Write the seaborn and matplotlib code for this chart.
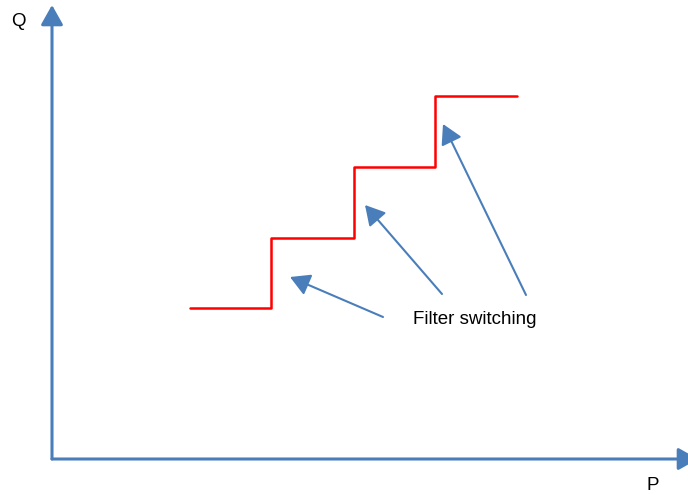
import matplotlib
matplotlib.use("Agg")
import matplotlib.pyplot as plt
import seaborn as sns
import pandas as pd

sns.set_style("white")
plt.rcParams['font.family'] = ['Liberation Sans', 'DejaVu Sans']

# step curve: Q level after each filter switch (P positions)
p_steps = [138, 219, 302, 383, 465]
q_steps = [151, 221, 292, 363, 363]

# annotation arrows (tail -> tip)
arrow_tail = [(331, 142), (390, 165), (474, 164)]
arrow_tip = [(238, 182), (313, 254), (391, 335)]
label_text = "Filter switching"

blue = "#4a7ebb"

fig = plt.figure(figsize=(6.88, 4.95), dpi=100)
ax = fig.add_axes([0, 0, 1, 1])
ax.set_xlim(-52, 636)
ax.set_ylim(-36, 459)
ax.axis("off")

df = pd.DataFrame({"P": p_steps, "Q": q_steps})
sns.lineplot(data=df, x="P", y="Q", drawstyle="steps-post", color="#ff0000",
             linewidth=1.8, ax=ax)

# axes drawn as arrows
head = "-|>,head_length=0.8,head_width=0.45"
ax.annotate("", xy=(0, 454), xytext=(0, 0), annotation_clip=False,
            arrowprops=dict(arrowstyle=head, color=blue, lw=2.2,
                            mutation_scale=15, shrinkA=0, shrinkB=0))
ax.annotate("", xy=(646, 0), xytext=(0, 0), annotation_clip=False,
            arrowprops=dict(arrowstyle=head, color=blue, lw=2.2,
                            mutation_scale=15, shrinkA=0, shrinkB=0))

for tail, tip in zip(arrow_tail, arrow_tip):
    ax.annotate("", xy=tip, xytext=tail, annotation_clip=False,
                arrowprops=dict(arrowstyle=head, color=blue, lw=1.5,
                                mutation_scale=15, shrinkA=0, shrinkB=0))

ax.text(361, 139, label_text, fontsize=13.5, va="center", ha="left", color="black")
ax.text(-34, 437, "Q", fontsize=13.5, va="center", ha="center", color="black")
ax.text(601, -27, "P", fontsize=13.5, va="center", ha="center", color="black")

fig.savefig("out.png", dpi=100)
